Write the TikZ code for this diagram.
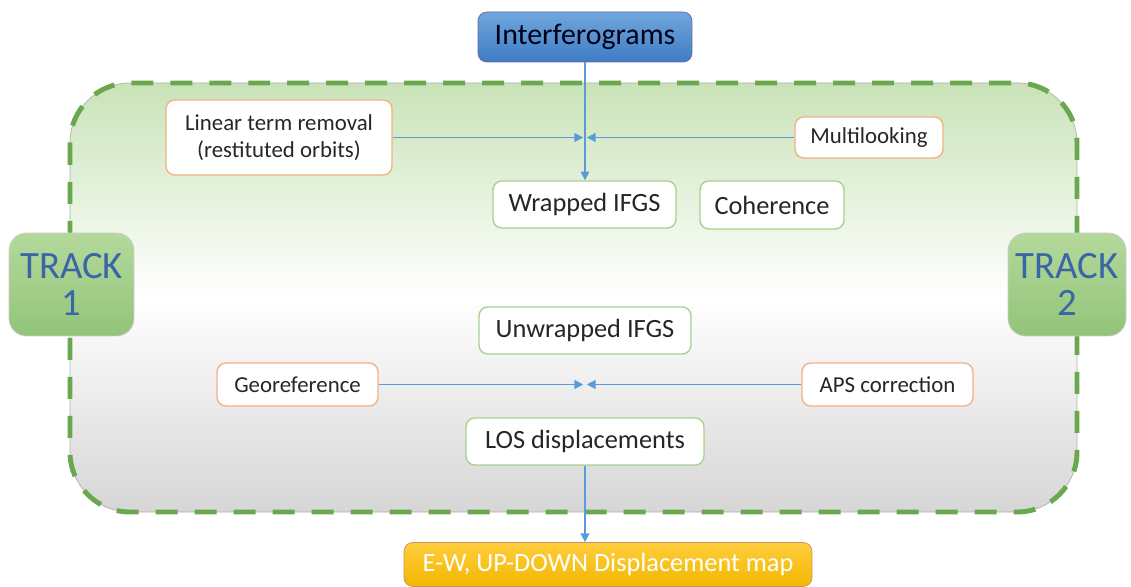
\documentclass[tikz,border=0pt]{standalone}
\usepackage{fontspec}
\setmainfont{Carlito}
\usepackage{xcolor}
\usetikzlibrary{positioning, arrows.meta, calc}

\definecolor{flowblue}{HTML}{5B9BD5}
\definecolor{procorange}{HTML}{F4B183}
\definecolor{datagreen}{HTML}{A9D18E}
\definecolor{dashgreen}{HTML}{6AA84F}
\definecolor{tracktext}{HTML}{3A66A8}
\definecolor{inkgray}{HTML}{262626}
\definecolor{areatop}{HTML}{C9E3B8}
\definecolor{areabottom}{HTML}{D6D6D6}
\definecolor{tracktop}{HTML}{B4D99B}
\definecolor{trackbottom}{HTML}{92C47A}
\definecolor{maptop}{HTML}{FFCD3C}
\definecolor{mapbottom}{HTML}{F2B700}
\definecolor{interftop}{HTML}{6FA6DC}
\definecolor{interfbottom}{HTML}{3F7CC4}

\begin{document}
\begin{tikzpicture}[
  x=0.02cm, y=-0.02cm,
  >={Triangle[length=5pt,width=5pt]},
  every node/.style={text=inkgray},
  procbox/.style={draw=procorange, thick, fill=white, rounded corners=5pt,
    font=\fontsize{13}{15.5}\selectfont, align=center, inner sep=2pt},
  databox/.style={draw=datagreen, thick, fill=white, rounded corners=5pt,
    font=\fontsize{15}{18}\selectfont, inner sep=2pt},
  trackbox/.style={draw=gray!40, top color=tracktop, bottom color=trackbottom,
    rounded corners=10pt, font=\fontsize{22}{19}\selectfont, text=tracktext, align=center,
    minimum width=2.5cm, minimum height=2.06cm},
  flow/.style={flowblue, line width=0.8pt, ->}
]
\useasboundingbox (0,0) rectangle (1131,587);

% Processing area
\shade[top color=areatop, bottom color=areabottom, middle color=white,
  rounded corners=1.2cm] (70,83) rectangle (1077,512);
\draw[gray!60, thin, rounded corners=1.2cm] (70,83) rectangle (1077,512);
\draw[dashgreen, line width=2.8pt, dash pattern=on 0.44cm off 0.34cm, rounded corners=1.2cm]
  (70,83) rectangle (1077,512);

% Tracks
\node[trackbox] (track1) at (71.5,284.5) {TRACK\\[2pt]1};
\node[trackbox, minimum width=2.36cm] (track2) at (1067,284.5) {TRACK\\[2pt]2};

% Input and output
\node[draw=blue!40!black!60, top color=interftop, bottom color=interfbottom,
  rounded corners=5pt, font=\fontsize{17}{20}\selectfont, text=black!90!blue,
  minimum width=4.28cm, minimum height=1cm] (interf) at (585,37) {Interferograms};
\node[draw=orange!60!black!60, top color=maptop, bottom color=mapbottom,
  rounded corners=5pt, font=\fontsize{15}{18}\selectfont, text=white,
  minimum width=8.16cm, minimum height=0.88cm] (dispmap) at (608,564.5) {E-W, UP-DOWN Displacement map};

% Steps
\node[procbox, minimum width=4.52cm, minimum height=1.5cm] (linterm) at (279,137.5)
  {Linear term removal\\(restituted orbits)};
\node[procbox, minimum width=2.96cm, minimum height=0.82cm] (multilook) at (869,137.5) {Multilooking};
\node[databox, minimum width=3.66cm, minimum height=0.94cm] (wrapped) at (584.5,204.5) {Wrapped IFGS};
\node[databox, minimum width=2.88cm, minimum height=0.96cm] (coher) at (772,205) {Coherence};
\node[databox, minimum width=4.24cm, minimum height=0.94cm] (unwrapped) at (585,330.5) {Unwrapped IFGS};
\node[procbox, minimum width=3.22cm, minimum height=0.86cm] (georef) at (297.5,384.5) {Georeference};
\node[procbox, minimum width=3.42cm, minimum height=0.86cm] (apscorr) at (887.5,384.5) {APS correction};
\node[databox, minimum width=4.76cm, minimum height=0.94cm] (losdisp) at (585,441.5) {LOS displacements};

% Joins
\coordinate (topjoin) at (interf.south |- multilook.west);
\coordinate (lowjoin) at (losdisp.north |- georef.east);

% Connectors
\draw[flow] (interf.south) -- (interf.south |- wrapped.north);
\draw[flow] (linterm.east) -- ([xshift=-1pt]topjoin);
\draw[flow] (multilook.west) -- ([xshift=1pt]topjoin);
\draw[flow] (georef.east) -- ([xshift=-1pt]lowjoin);
\draw[flow] (apscorr.west) -- ([xshift=1pt]lowjoin);
\draw[flow] (losdisp.south) -- (losdisp.south |- dispmap.north);

\end{tikzpicture}
\end{document}
